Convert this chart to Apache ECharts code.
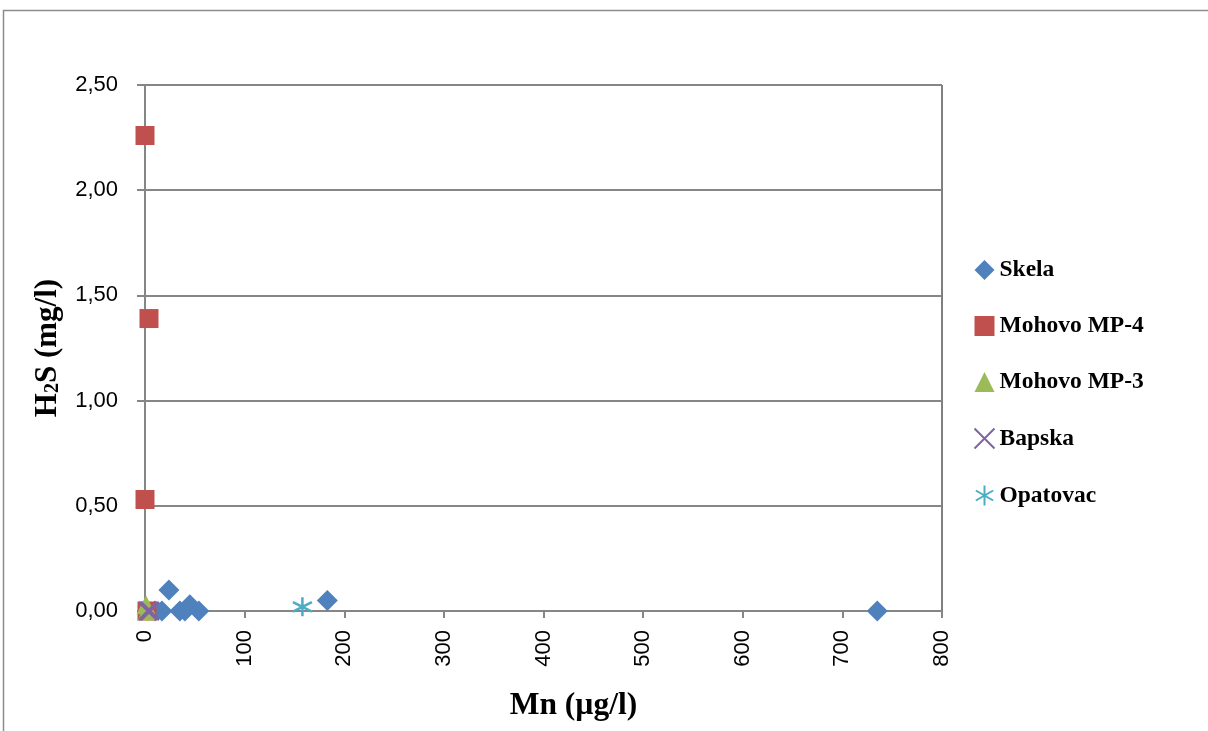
<!DOCTYPE html>
<html>
<head>
<meta charset="utf-8">
<script src="https://cdn.jsdelivr.net/npm/echarts@6/dist/echarts.min.js"></script>
<style>
  html, body { margin: 0; padding: 0; background: #fff; }
  #chart { width: 1208px; height: 731px; }
</style>
</head>
<body>
<div id="chart"></div>
<script>
// Mn (ug/l) vs H2S (mg/l)
var skelaX = [735, 183, 24, 10, 17, 35, 40, 45, 54];
var skelaY = [0.00, 0.05, 0.10, 0.00, 0.00, 0.00, 0.00, 0.03, 0.00];
var mp4X = [0, 4, 0, 2];
var mp4Y = [2.26, 1.39, 0.53, 0.00];
var mp3X = [1, 2];
var mp3Y = [0.03, 0.00];
var bapskaX = [3, 5];
var bapskaY = [0.00, 0.00];
var opatovacX = [158];
var opatovacY = [0.02];

var names = ['Skela', 'Mohovo MP-4', 'Mohovo MP-3', 'Bapska', 'Opatovac'];
var colors = ['#4F81BD', '#C0504D', '#9BBB59', '#8064A2', '#4BACC6'];

function pairs(xs, ys) {
    var out = [];
    for (var i = 0; i < xs.length; i++) out.push([xs[i], ys[i]]);
    return out;
}

var crossPath = 'path://M0,0L10,10M10,0L0,10';
var starPath = 'path://M5,0L5,10M0.67,2.5L9.33,7.5M0.67,7.5L9.33,2.5';

var myChart = echarts.init(document.getElementById('chart'));

var option = {
    animation: false,
    graphic: [{
        type: 'rect',
        shape: { x: 3.5, y: 10.5, width: 1300, height: 900 },
        style: { fill: 'none', stroke: '#8c8c8c', lineWidth: 1.5 },
        silent: true,
        z: -1
    }],
    grid: {
        left: 145, right: 266, top: 85, bottom: 120,
        show: true, borderColor: '#000', borderWidth: 1
    },
    legend: {
        orient: 'vertical',
        left: 967, top: 253,
        itemGap: 32,
        itemWidth: 20, itemHeight: 20,
        textStyle: { fontFamily: 'Liberation Serif', fontWeight: 'bold', fontSize: 23.5, color: '#000', padding: [0, 0, 0, 0] },
        data: names
    },
    xAxis: {
        type: 'value',
        min: 0, max: 800, interval: 100,
        name: 'Mn (µg/l)',
        nameLocation: 'middle',
        nameGap: 79,
        nameTextStyle: { fontFamily: 'Liberation Serif', fontWeight: 'bold', fontSize: 31.5, color: '#000', padding: [0, 0, 0, 60] },
        axisLine: { lineStyle: { color: '#868686', width: 2 } },
        axisTick: { show: true, length: 7, lineStyle: { color: '#868686', width: 2 } },
        axisLabel: { rotate: 90, fontFamily: 'Liberation Sans', fontSize: 22, color: '#000', margin: 19 },
        splitLine: { show: false }
    },
    yAxis: {
        type: 'value',
        min: 0, max: 2.5, interval: 0.5,
        name: '{b|H}{s|2}{b|S (mg/l)}',
        nameLocation: 'middle',
        nameGap: 82,
        nameRotate: 90,
        nameTextStyle: {
            rich: {
                b: { fontFamily: 'Liberation Serif', fontWeight: 'bold', fontSize: 31, color: '#000', lineHeight: 36, verticalAlign: 'bottom' },
                s: { fontFamily: 'Liberation Serif', fontWeight: 'bold', fontSize: 20, color: '#000', lineHeight: 36, verticalAlign: 'bottom', padding: [14, 0, 0, 0] }
            }
        },
        axisLine: { show: true, lineStyle: { color: '#868686', width: 2 } },
        axisTick: { show: true, length: 8, lineStyle: { color: '#868686', width: 2 } },
        axisLabel: {
            fontFamily: 'Liberation Sans', fontSize: 22, color: '#000', margin: 27,
            formatter: function (v) { return v.toFixed(2).replace('.', ','); }
        },
        splitLine: { show: true, lineStyle: { color: '#868686', width: 2 } }
    },
    series: [
        {
            name: names[0], type: 'scatter', symbol: 'diamond', symbolSize: 21,
            itemStyle: { color: colors[0], opacity: 1 },
            data: pairs(skelaX, skelaY)
        },
        {
            name: names[1], type: 'scatter', symbol: 'rect', symbolSize: 19,
            itemStyle: { color: colors[1], opacity: 1 },
            data: pairs(mp4X, mp4Y)
        },
        {
            name: names[2], type: 'scatter', symbol: 'triangle', symbolSize: 19,
            itemStyle: { color: colors[2], opacity: 1 },
            data: pairs(mp3X, mp3Y)
        },
        {
            name: names[3], type: 'scatter', symbol: crossPath, symbolSize: 18,
            itemStyle: { color: 'none', borderColor: colors[3], borderWidth: 2.5, opacity: 1 },
            data: pairs(bapskaX, bapskaY)
        },
        {
            name: names[4], type: 'scatter', symbol: starPath, symbolSize: 19,
            itemStyle: { color: 'none', borderColor: colors[4], borderWidth: 2.5, opacity: 1 },
            data: pairs(opatovacX, opatovacY)
        }
    ]
};

myChart.setOption(option);
</script>
</body>
</html>
